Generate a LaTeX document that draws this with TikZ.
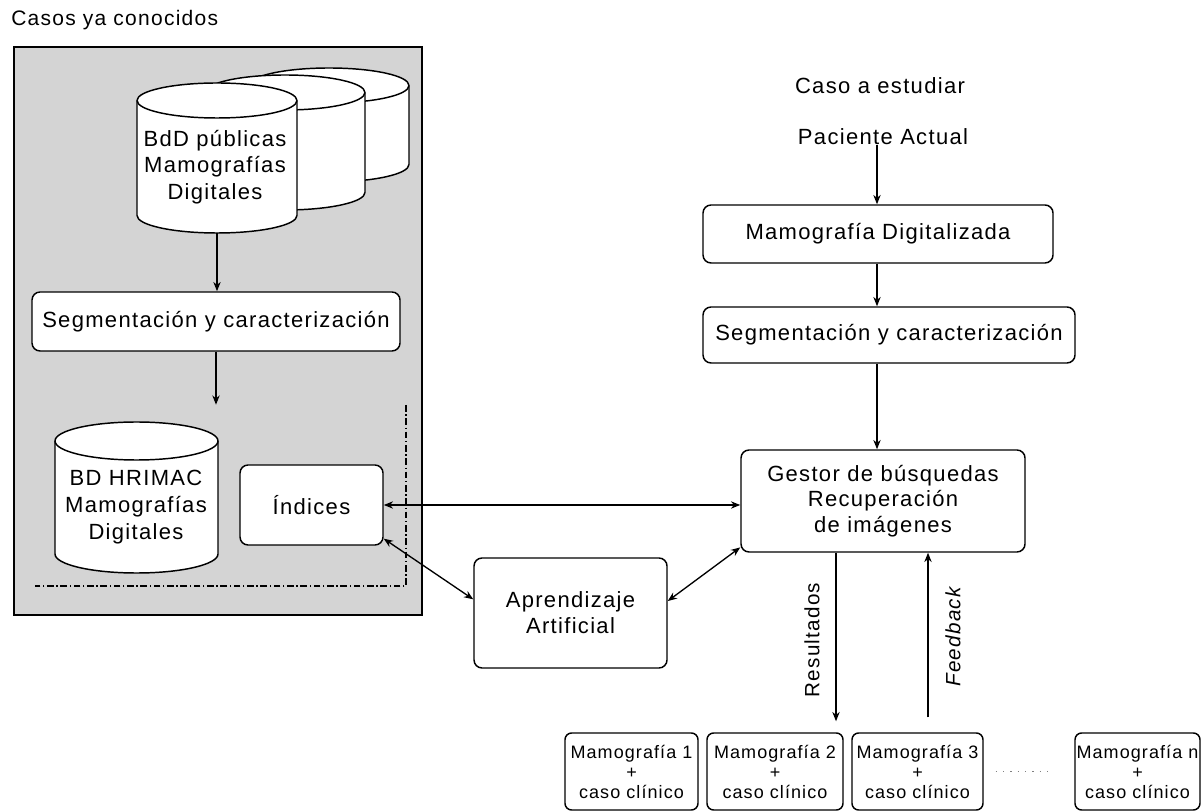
\documentclass[tikz,border=0pt]{standalone}
\usepackage{fontspec}
\setmainfont{Liberation Sans}[LetterSpace=6]
\usetikzlibrary{arrows.meta}
\definecolor{panel}{RGB}{212,212,212}
\newcommand\mycyl[5]{%
  \draw[cylline] (#1-#2,#3) -- (#1-#2,#4) arc[start angle=180,end angle=0,x radius=#2,y radius=#5]
    -- (#1+#2,#3) arc[start angle=0,end angle=-180,x radius=#2,y radius=#5] -- cycle;
  \draw[cylline,fill=none] (#1-#2,#3) arc[start angle=180,end angle=0,x radius=#2,y radius=#5];
}
\begin{document}
\begin{tikzpicture}[x=0.75pt,y=-0.75pt,
  cylline/.style={draw=black,fill=white,line width=1.1pt},
  box/.style={draw=black,fill=white,line width=1.1pt,rounded corners=6pt,inner sep=0pt,align=center,
    font=\fontsize{16.5}{19.5}\selectfont},
  smallbox/.style={box,rounded corners=5pt,font=\fontsize{13.5}{15}\selectfont,
    minimum height=57.75pt},
  txt/.style={align=center,inner sep=0pt,font=\fontsize{16.5}{20}\selectfont},
  ghost/.style={inner sep=0pt,draw=none},
  vlab/.style={rotate=90,inner sep=0pt,font=\fontsize{15.5}{18}\selectfont},
  arr/.style={-{Stealth[length=7pt,width=5.5pt]},line width=1pt},
  darr/.style={{Stealth[length=7pt,width=5.5pt]}-{Stealth[length=7pt,width=5.5pt]},line width=1pt}]
\useasboundingbox (0,0) rectangle (1203,812);

% title and panel
\node[anchor=west,inner sep=0pt,font=\fontsize{15.75}{18}\selectfont] (title) at (11,20) {Casos ya conocidos};
\draw[fill=panel,line width=1.2pt] (14,47) rectangle (422,615);

% stacked cylinders
\mycyl{329}{80}{85.5}{164.5}{17.5}
\mycyl{285}{80}{92.5}{192.5}{17.5}
\mycyl{217}{80}{100.5}{215.5}{17.5}
\node[ghost,minimum width=120pt,minimum height=112.5pt] (bdd) at (217,158) {};
\node[txt] (bddtxt) at (215,167) {BdD públicas\\Mamografías\\Digitales};

% segmentation left
\node[box,minimum width=276pt,minimum height=44.25pt] (segL) at (216,321.5) {Segmentación y caracterización};

% HRIMAC cylinder
\mycyl{136.5}{81.5}{441}{554}{19}
\node[ghost,minimum width=122pt,minimum height=113.25pt] (hrimac) at (136.5,497.5) {};
\node[txt] (hrimactxt) at (136,507) {BD HRIMAC\\Mamografías\\Digitales};

% indices
\node[box,minimum width=107.25pt,minimum height=60pt] (ind) at (311.5,505) {Índices};

% dash-dot frame
\draw[line width=0.9pt,dash pattern=on 5pt off 2pt on 1pt off 2pt] (406,405) -- (406,586) -- (35,586);

% right column
\coordinate (ax) at (877,0);
\node[txt] (caso) at (880,86) {Caso a estudiar};
\node[txt] (pac) at (883,137) {Paciente Actual};
\node[box,minimum width=262.5pt,minimum height=43.5pt] (mdig) at (878,234) {Mamografía Digitalizada};
\node[box,minimum width=279pt,minimum height=42pt] (segR) at (889,335) {Segmentación y caracterización};
\node[box,minimum width=213pt,minimum height=76.5pt,font=\fontsize{16.5}{19.2}\selectfont] (gest) at (883,501) {Gestor de búsquedas\\Recuperación\\de imágenes};
\node[box,minimum width=144.75pt,minimum height=82.5pt] (apr) at (570.5,613) {Aprendizaje\\Artificial};

% results boxes
\node[smallbox,minimum width=99.75pt] (m1) at (631.5,771.5) {Mamografía 1\\+\\caso clínico};
\node[smallbox,minimum width=102pt] (m2) at (775,771.5) {Mamografía 2\\+\\caso clínico};
\node[smallbox,minimum width=98.25pt] (m3) at (917.5,771.5) {Mamografía 3\\+\\caso clínico};
\node[smallbox,minimum width=93.75pt] (mn) at (1137.5,771.5) {Mamografía n\\+\\caso clínico};
\draw[gray,line width=1pt,dash pattern=on 1pt off 4.5pt,shorten <=9pt,shorten >=16.5pt] (m3.east) -- (mn.west);

% connectors
\draw[arr] (bdd.south) -- (bdd.south |- segL.north);
\draw[arr,shorten >=12.75pt] (segL.south) -- (segL.south |- hrimac.north);
\draw[arr] (pac.south -| ax) -- (mdig.north -| ax);
\draw[arr] (mdig.south -| ax) -- (segR.north -| ax);
\draw[arr] (segR.south -| ax) -- (gest.north -| ax);
\draw[darr] (ind.east) -- (ind.east -| gest.west);
\draw[darr] (ind.-25) -- (apr.172);
\draw[darr] (apr.7) -- (gest.198);
\coordinate (rx) at (836,0);
\coordinate (fx) at (928,0);
\draw[arr,shorten >=8.25pt] (gest.south -| rx) -- (m2.north -| rx);
\draw[arr,shorten <=11.25pt] (m3.north -| fx) -- (gest.south -| fx);
\node[vlab] (reslab) at (812,640) {Resultados};
\node[vlab,font=\fontsize{15.5}{18}\selectfont\itshape] (feedlab) at (953,637) {Feedback};
\end{tikzpicture}
\end{document}
